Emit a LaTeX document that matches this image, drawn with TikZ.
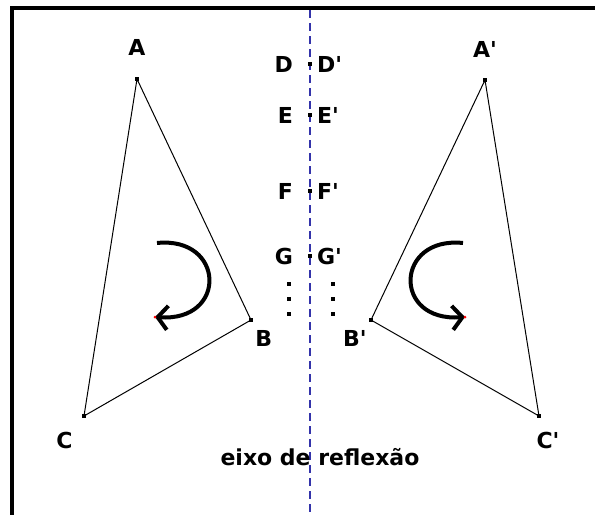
\documentclass[tikz,border=0pt]{standalone}
\usepackage{fontspec}
\setmainfont{DejaVu Sans}
\usetikzlibrary{positioning, arrows.meta}
\definecolor{axisblue}{RGB}{51,51,170}
\newcommand{\pr}{\textquotesingle}

\begin{document}
\begin{tikzpicture}[x=1pt, y=-1pt,
    lbl/.style={font=\bfseries\fontsize{22}{22}\selectfont, text height=16pt, text depth=0pt, inner sep=0pt},
    vert/.style={fill, minimum size=4pt, inner sep=0pt},
    rot/.style={line width=4pt, -{Straight Barb[length=10pt,width=24pt]}}]

    \useasboundingbox (0,0) rectangle (595,515);

    % frame (top and left)
    \fill (10,6) rectangle (595,10);
    \fill (10,6) rectangle (14,515);

    % axis of reflection
    \coordinate (axtop) at (310,10);
    \coordinate (axbot) at (310,515);
    \draw[axisblue, line width=2pt, dash pattern=on 8pt off 5pt] (axtop) -- (axbot);
    \node[lbl, anchor=base] (axis) at (320,465) {eixo de reflexão};

    % triangle ABC
    \node[vert] (A) at (137,79) {};
    \node[vert] (B) at (251,320) {};
    \node[vert] (C) at (84,416) {};
    \draw[line width=1pt] (A.center) -- (B.center) -- (C.center) -- cycle;
    \node[lbl, above=21pt of A] (lA) {A};
    \node[lbl, below right=8pt and 2pt of B] (lB) {B};
    \node[lbl, below left=14pt and 9pt of C] (lC) {C};

    % triangle A'B'C'
    \node[vert] (A') at (485,80) {};
    \node[vert] (B') at (371,320) {};
    \node[vert] (C') at (539,416) {};
    \draw[line width=1pt] (A'.center) -- (B'.center) -- (C'.center) -- cycle;
    \node[lbl, above=20pt of A'] (lA') {A\pr};
    \node[lbl, below left=8pt and 2pt of B'] (lB') {B\pr};
    \node[lbl, below=14pt of C', xshift=9pt] (lC') {C\pr};

    % points on the axis
    \node[vert, minimum size=3.5pt] (D) at (310,64) {};
    \node[lbl, left=15pt of D] (lD) {D};
    \node[lbl, right=5pt of D] (lD') {D\pr};

    \node[vert, minimum size=3.5pt] (E) at (310,115) {};
    \node[lbl, left=15pt of E] (lE) {E};
    \node[lbl, right=5pt of E] (lE') {E\pr};

    \node[vert, minimum size=3.5pt] (F) at (310,191) {};
    \node[lbl, left=15pt of F] (lF) {F};
    \node[lbl, right=5pt of F] (lF') {F\pr};

    \node[vert, minimum size=3.5pt] (G) at (310,256) {};
    \node[lbl, left=15pt of G] (lG) {G};
    \node[lbl, right=5pt of G] (lG') {G\pr};

    % dots (and so on)
    \fill (287,282) rectangle +(4,4);
    \fill (287,297) rectangle +(4,4);
    \fill (287,312) rectangle +(4,4);
    \fill (331,282) rectangle +(4,4);
    \fill (331,297) rectangle +(4,4);
    \fill (331,312) rectangle +(4,4);

    % rotation sense
    \draw[rot] (157,243) .. controls (225,236) and (228,322) .. (155,317);
    \fill[red] (155,317) circle (1.5pt);
    \draw[rot] (463,243) .. controls (395,236) and (392,322) .. (465,317);
    \fill[red] (465,317) circle (1.5pt);

\end{tikzpicture}
\end{document}
